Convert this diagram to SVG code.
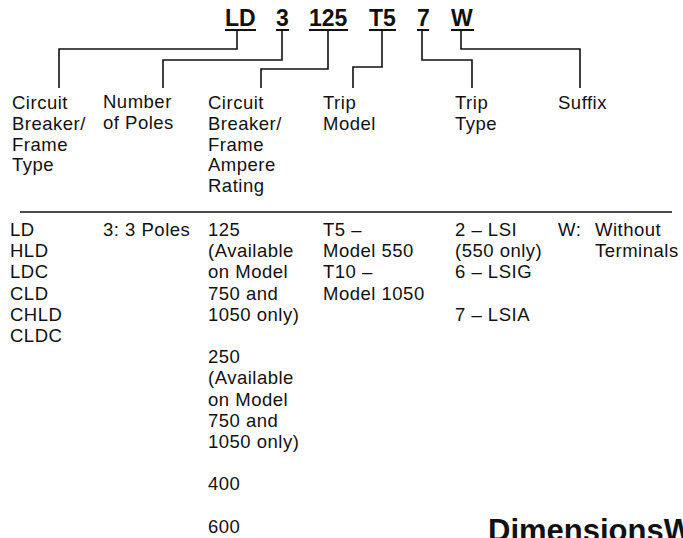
<svg xmlns="http://www.w3.org/2000/svg" width="683" height="538" viewBox="0 0 683 538">
<style>
.t{font-family:"Liberation Sans",Arial,sans-serif;font-size:18.5px;letter-spacing:0.5px;fill:#111}
.code{font-family:"Liberation Sans",Arial,sans-serif;font-size:23px;font-weight:bold;fill:#111}
.ul{stroke:#111;stroke-width:2;fill:none}
.c{stroke:#111;stroke-width:1.6;fill:none}
.big{font-family:"Liberation Sans",Arial,sans-serif;font-size:31px;font-weight:bold;fill:#111}
</style>
<rect width="683" height="538" fill="#fff"/>
<g id="code">
<text class="code" x="225" y="26">LD</text>
<text class="code" x="276" y="26">3</text>
<text class="code" x="309" y="26">125</text>
<text class="code" x="369" y="26">T5</text>
<text class="code" x="417" y="26">7</text>
<text class="code" x="451" y="26">W</text>
<line class="ul" x1="225" y1="30" x2="256" y2="30"/>
<line class="ul" x1="276" y1="30" x2="289" y2="30"/>
<line class="ul" x1="309" y1="30" x2="348" y2="30"/>
<line class="ul" x1="369" y1="30" x2="396" y2="30"/>
<line class="ul" x1="417" y1="30" x2="429" y2="30"/>
<line class="ul" x1="451" y1="30" x2="474" y2="30"/>
</g>
<g id="connectors">
<polyline class="c" points="237,30 237,49 59,49 59,88"/>
<polyline class="c" points="282,30 282,60 163,60 163,88"/>
<polyline class="c" points="328,30 328,69 261,69 261,88"/>
<polyline class="c" points="382,30 382,67 353,67 353,88"/>
<polyline class="c" points="422,30 422,60 472,60 472,88"/>
<polyline class="c" points="461,30 461,49 580,49 580,88"/>
</g>
<g id="header-type">
<text class="t" x="12" y="109">Circuit</text>
<text class="t" x="12" y="130">Breaker/</text>
<text class="t" x="12" y="151">Frame</text>
<text class="t" x="12" y="171">Type</text>
</g>
<g id="header-poles">
<text class="t" x="103" y="108">Number</text>
<text class="t" x="103" y="129">of Poles</text>
</g>
<g id="header-rating">
<text class="t" x="208" y="109">Circuit</text>
<text class="t" x="208" y="130">Breaker/</text>
<text class="t" x="208" y="151">Frame</text>
<text class="t" x="208" y="171">Ampere</text>
<text class="t" x="208" y="192">Rating</text>
</g>
<g id="header-model">
<text class="t" x="323" y="109">Trip</text>
<text class="t" x="323" y="130">Model</text>
</g>
<g id="header-triptype">
<text class="t" x="455" y="109">Trip</text>
<text class="t" x="455" y="130">Type</text>
</g>
<g id="header-suffix">
<text class="t" x="558" y="109">Suffix</text>
</g>
<line id="separator" x1="20" y1="212" x2="672" y2="212" stroke="#111" stroke-width="1.3"/>
<g id="body-type">
<text class="t" x="10" y="236">LD</text>
<text class="t" x="10" y="257">HLD</text>
<text class="t" x="10" y="278">LDC</text>
<text class="t" x="10" y="300">CLD</text>
<text class="t" x="10" y="321">CHLD</text>
<text class="t" x="10" y="342">CLDC</text>
</g>
<g id="body-poles">
<text class="t" x="103" y="236">3: 3 Poles</text>
</g>
<g id="body-rating">
<text class="t" x="208" y="236">125</text>
<text class="t" x="208" y="257">(Available</text>
<text class="t" x="208" y="278">on Model</text>
<text class="t" x="208" y="300">750 and</text>
<text class="t" x="208" y="321">1050 only)</text>
<text class="t" x="208" y="363">250</text>
<text class="t" x="208" y="384">(Available</text>
<text class="t" x="208" y="406">on Model</text>
<text class="t" x="208" y="427">750 and</text>
<text class="t" x="208" y="448">1050 only)</text>
<text class="t" x="208" y="490">400</text>
<text class="t" x="208" y="533">600</text>
</g>
<g id="body-model">
<text class="t" x="323" y="236">T5 –</text>
<text class="t" x="323" y="257">Model 550</text>
<text class="t" x="323" y="278">T10 –</text>
<text class="t" x="323" y="300">Model 1050</text>
</g>
<g id="body-triptype">
<text class="t" x="455" y="236">2 – LSI</text>
<text class="t" x="455" y="257">(550 only)</text>
<text class="t" x="455" y="278">6 – LSIG</text>
<text class="t" x="455" y="321">7 – LSIA</text>
</g>
<g id="body-suffix">
<text class="t" x="558" y="236">W:</text>
<text class="t" x="595" y="236">Without</text>
<text class="t" x="595" y="257">Terminals</text>
</g>
<text class="big" x="488" y="541">DimensionsW</text>
</svg>
